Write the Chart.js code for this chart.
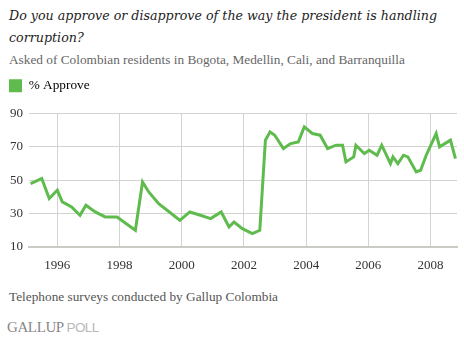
<!DOCTYPE html>
<html>
<head>
<meta charset="utf-8">
<script src="https://cdn.jsdelivr.net/npm/chart.js@4/dist/chart.umd.min.js"></script>
<style>
  html, body { margin: 0; padding: 0; background: #fff; }
  body { width: 464px; height: 343px; position: relative; overflow: hidden; }
  .t { position: absolute; white-space: nowrap; }
  #title { left: 9px; top: 5px; font: italic 12.65px/22px "DejaVu Serif", serif; color: #222; }
  #sub { left: 9px; top: 52px; font: 13.3px "Liberation Serif", serif; color: #666; }
  #foot { left: 9px; top: 289px; font: 13.3px "Liberation Serif", serif; color: #555; }
  #logo { left: 7px; top: 319px; font: 15px "Liberation Serif", serif; color: #888; letter-spacing: -0.4px; }
  #logo span { font: 13.5px "Liberation Sans", sans-serif; color: #b8b8b8; letter-spacing: -0.6px; }
  #wrap { position: absolute; left: 0; top: 70px; width: 464px; height: 210px; }
</style>
</head>
<body>
<div id="title" class="t">Do you approve or disapprove of the way the president is handling<br>corruption?</div>
<div id="sub" class="t">Asked of Colombian residents in Bogota, Medellin, Cali, and Barranquilla</div>
<div id="wrap"><canvas id="c"></canvas></div>
<div id="foot" class="t">Telephone surveys conducted by Gallup Colombia</div>
<div id="logo" class="t">GALLUP <span>POLL</span></div>
<script>
const seriesLabel = '% Approve';
const surveyDates = [
  1995.14, 1995.50, 1995.74, 1996.00, 1996.16, 1996.46, 1996.73, 1996.92,
  1997.22, 1997.54, 1997.92, 1998.51, 1998.74, 1998.94, 1999.26, 1999.94,
  2000.26, 2000.60, 2000.93, 2001.27, 2001.52, 2001.68, 2001.95, 2002.27,
  2002.51, 2002.69, 2002.84, 2002.99, 2003.27, 2003.50, 2003.75, 2003.94,
  2004.20, 2004.45, 2004.69, 2004.96, 2005.17, 2005.28, 2005.53, 2005.60,
  2005.87, 2006.03, 2006.28, 2006.43, 2006.71, 2006.79, 2006.95, 2007.13,
  2007.27, 2007.54, 2007.68, 2007.86, 2008.18, 2008.29, 2008.64, 2008.80
];
const approveValues = [
  48, 51, 39, 44, 37, 34, 29, 35,
  31, 28, 28, 20, 49, 43, 36, 26,
  31, 29, 27, 31, 22, 25, 21, 18,
  20, 74, 79, 77, 69, 72, 73, 82,
  78, 77, 69, 71, 71, 61, 64, 71,
  66, 68, 65, 71, 60, 64, 60, 65,
  64, 55, 56, 65, 78, 70, 74, 63
];
const xTickYears = [1996, 1998, 2000, 2002, 2004, 2006, 2008];
const yTickValues = [10, 30, 50, 70, 90];

const green = '#5fbb4e';
const gridColor = '#d3d3d0';
const tickFont = { family: '"Liberation Serif", serif', size: 13 };

const points = surveyDates.map((d, i) => ({ x: d, y: approveValues[i] }));

new Chart(document.getElementById('c'), {
  type: 'line',
  data: {
    datasets: [{
      label: seriesLabel,
      data: points,
      borderColor: green,
      backgroundColor: green,
      borderWidth: 3,
      pointRadius: 0,
      tension: 0,
      borderJoinStyle: 'miter'
    }]
  },
  options: {
    responsive: true,
    maintainAspectRatio: false,
    animation: false,
    layout: { padding: { left: 0, right: 7, top: 0, bottom: 0 } },
    plugins: {
      tooltip: { enabled: false },
      legend: {
        display: true,
        position: 'top',
        align: 'start',
        labels: {
          boxWidth: 13, boxHeight: 13, padding: 9,
          color: '#333',
          font: { family: '"Liberation Serif", serif', size: 13.3 },
          generateLabels: (chart) => [{
            text: seriesLabel, fillStyle: green, strokeStyle: green, lineWidth: 0, datasetIndex: 0
          }]
        }
      },
      subtitle: {
        display: true, text: '', weight: 500, position: 'top',
        font: { size: 1 }, padding: { top: 0, bottom: 10 }
      }
    },
    scales: {
      x: {
        type: 'linear',
        min: 1995.09, max: 2008.85,
        afterFit: (s) => { s.height = 33; },
        afterBuildTicks: (s) => { s.ticks = xTickYears.map(v => ({ value: v })); },
        ticks: {
          padding: 11, color: '#333', font: tickFont, maxRotation: 0, autoSkip: false,
          callback: (v) => String(v)
        },
        grid: { color: gridColor, lineWidth: 1, drawTicks: false },
        border: { display: true, color: '#cbcbc5', width: 2 }
      },
      y: {
        min: 10, max: 90,
        afterFit: (s) => { s.width = 29; },
        afterBuildTicks: (s) => { s.ticks = yTickValues.map(v => ({ value: v })); },
        ticks: { padding: 6, color: '#333', font: tickFont },
        grid: { color: gridColor, lineWidth: 1, drawTicks: false },
        border: { display: false }
      }
    }
  }
});
</script>
</body>
</html>
